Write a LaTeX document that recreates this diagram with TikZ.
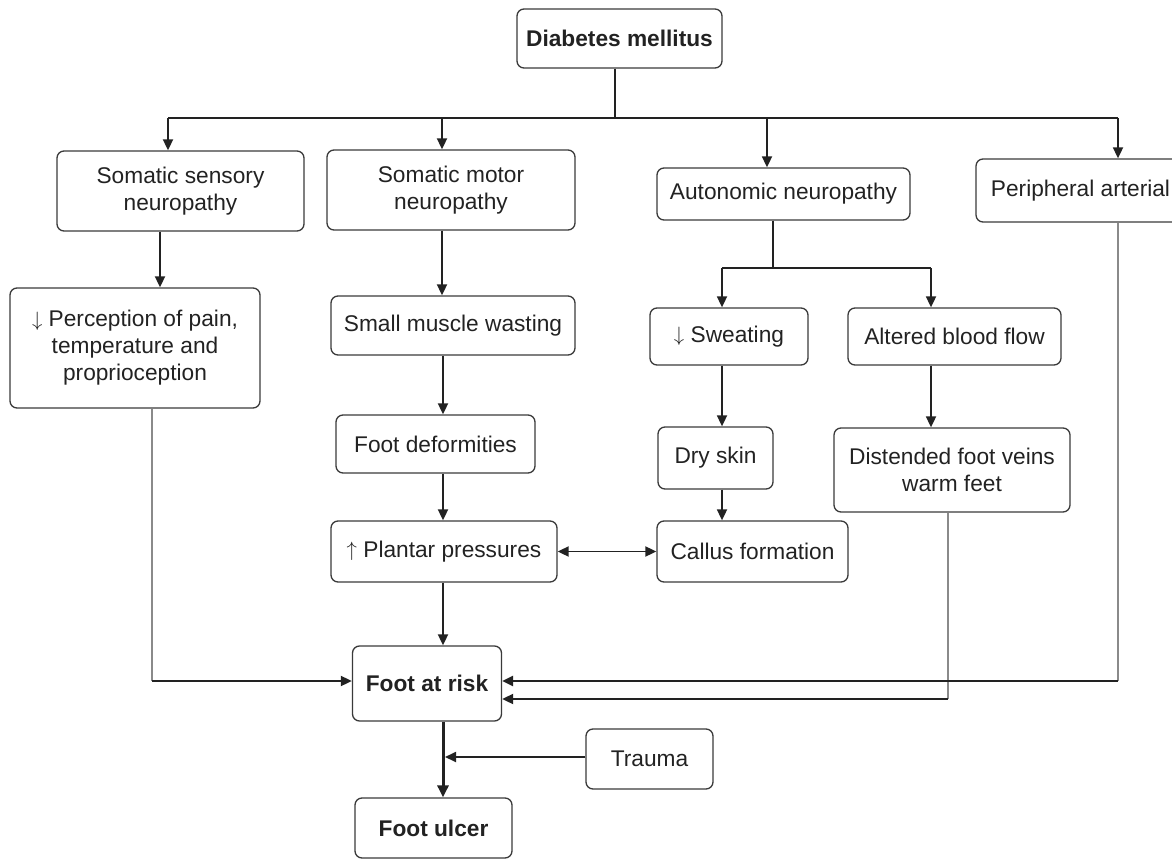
\documentclass[tikz,border=0pt]{standalone}
\usepackage{fontspec}
\setmainfont{Liberation Sans}
\usetikzlibrary{arrows.meta,calc}
\definecolor{ink}{HTML}{222222}
\definecolor{edge}{HTML}{3A3A3A}
\definecolor{greyline}{HTML}{8A8A8A}
\newcommand{\dnarr}{\raisebox{0.5pt}{$\downarrow$}}
\newcommand{\uparr}{\raisebox{0.5pt}{$\uparrow$}}
\begin{document}
\begin{tikzpicture}[x=1pt,y=-1pt,
  box/.style={draw=edge,line width=1.3pt,rounded corners=7pt,align=center,inner sep=0pt,
     text=ink,font=\fontsize{22.7}{27}\selectfont},
  bbox/.style={box,font=\fontsize{22.7}{27}\selectfont\bfseries},
  conn/.style={draw=ink,line width=1.8pt},
  arr/.style={conn,-{Triangle[length=11pt,width=10pt]}},
  tarr/.style={arr,line width=3pt,-{Triangle[length=12pt,width=11pt]}},
  dbl/.style={conn,{Triangle[length=11pt,width=10pt]}-{Triangle[length=11pt,width=10pt]}},
  grey/.style={draw=greyline,line width=1.4pt}]
\useasboundingbox (0,0) rectangle (1172,861);
\begin{scope}
\clip (0,0) rectangle (1172,861);
% nodes
\node[bbox,minimum width=205,minimum height=59] (dm) at (619.5,38.5) {Diabetes mellitus};
\node[box,minimum width=247,minimum height=80] (sens) at (180.5,191) {Somatic sensory\\neuropathy};
\node[box,minimum width=248,minimum height=80] (motor) at (451,190) {Somatic motor\\neuropathy};
\node[box,minimum width=253,minimum height=52] (auto) at (783.5,194) {Autonomic neuropathy};
\node[box,minimum width=209,minimum height=63] (per) at (1080.5,190.5) {Peripheral arterial};
\node[box,minimum width=250,minimum height=120] (perc) at (135,348) {\dnarr\ Perception of pain,\\temperature and\\proprioception};
\node[box,minimum width=244,minimum height=59] (smw) at (453,325.5) {Small muscle wasting};
\node[box,minimum width=199,minimum height=58] (fd) at (435.5,444) {Foot deformities};
\node[box,minimum width=226,minimum height=61] (pp) at (444,551.5) {\uparr\ Plantar pressures};
\node[box,minimum width=191,minimum height=61] (call) at (752.5,551.5) {Callus formation};
\node[box,minimum width=158,minimum height=57] (sweat) at (729,336.5) {\dnarr\ Sweating};
\node[box,minimum width=213,minimum height=57] (alt) at (954.5,336.5) {Altered blood flow};
\node[box,minimum width=115,minimum height=62] (dry) at (715.5,458) {Dry skin};
\node[box,minimum width=236,minimum height=84] (dist) at (952,470) {Distended foot veins\\warm feet};
\node[bbox,minimum width=149,minimum height=75] (far) at (427,683.5) {Foot at risk};
\node[box,minimum width=127,minimum height=60] (trauma) at (649.5,759) {Trauma};
\node[bbox,minimum width=157,minimum height=60] (ulcer) at (433.5,828) {Foot ulcer};
% junction coordinates
\coordinate (bus) at (615,118);
\coordinate (bL) at (168,118);
\coordinate (bR) at (1118,118);
\coordinate (aj) at (773,268);
\coordinate (ajL) at (722,268);
\coordinate (ajR) at (931,268);
\coordinate (pc) at (152,681);
\coordinate (dc) at (948,699);
\coordinate (rc) at (1118,681);
\coordinate (tj) at (445,757);
% top bus
\draw[conn] (dm.south -| bus) -- (bus);
\draw[conn] (bL) -- (bR);
\draw[arr] (bL) -- (bL |- sens.north);
\draw[arr] (442,118) -- (442,0 |- motor.north);
\draw[arr] (767,118) -- (767,0 |- auto.north);
\draw[arr] (bR) -- (bR |- per.north);
% sensory column
\draw[arr] (160,0 |- sens.south) -- (160,0 |- perc.north);
\draw[grey] (pc |- perc.south) -- (pc);
\draw[arr] (pc) -- (pc -| far.west);
% motor column
\draw[arr] (442,0 |- motor.south) -- (442,0 |- smw.north);
\draw[arr] (443,0 |- smw.south) -- (443,0 |- fd.north);
\draw[arr] (443,0 |- fd.south) -- (443,0 |- pp.north);
\draw[arr] (443,0 |- pp.south) -- (443,0 |- far.north);
\draw[dbl] (pp.east) -- (call.west);
% autonomic column
\draw[conn] (aj |- auto.south) -- (aj);
\draw[conn] (ajL) -- (ajR);
\draw[arr] (ajL) -- (ajL |- sweat.north);
\draw[arr] (ajR) -- (ajR |- alt.north);
\draw[arr] (722,0 |- sweat.south) -- (722,0 |- dry.north);
\draw[arr] (722,0 |- dry.south) -- (722,0 |- call.north);
\draw[arr] (931,0 |- alt.south) -- (931,0 |- dist.north);
\draw[grey] (dc |- dist.south) -- (dc);
\draw[arr] (dc) -- (dc -| far.east);
% peripheral arterial
\draw[grey] (rc |- per.south) -- (rc);
\draw[arr,line width=2.6pt] (rc) -- (rc -| far.east);
% bottom
\draw[tarr] (443,0 |- far.south) -- (443,0 |- ulcer.north);
\draw[arr] (trauma.west |- tj) -- (tj);
\end{scope}
\end{tikzpicture}
\end{document}
